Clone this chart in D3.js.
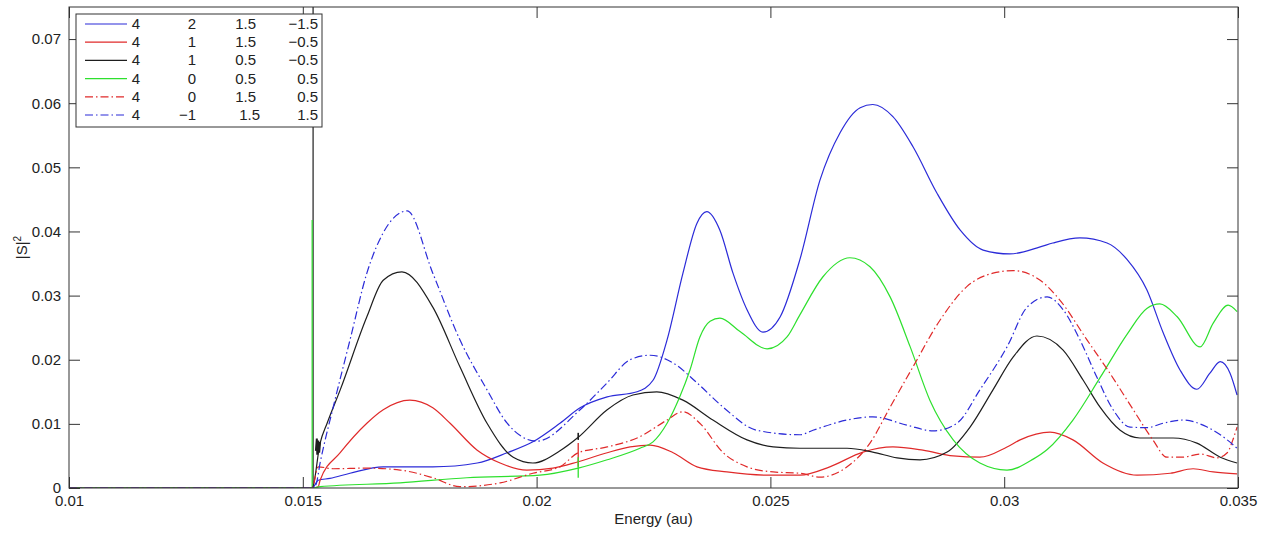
<!DOCTYPE html>
<html>
<head>
<meta charset="utf-8">
<script src="https://cdn.jsdelivr.net/npm/d3@7"></script>
<style>
  body { margin: 0; background: #fff; }
  svg { font-family: "Liberation Sans", Arial, sans-serif; }
</style>
</head>
<body>
<div id="chart"></div>
<script>
// energy (au), |S|^2
var blueSolid = [[0.01,0],[0.0152,0],[0.01533,0.0012],[0.01558,0.0015],[0.01601,0.0023],[0.01672,0.0033],[0.01778,0.0033],[0.01873,0.0039],[0.01937,0.0055],[0.01992,0.0072],[0.02050,0.0101],[0.02093,0.0125],[0.02151,0.0142],[0.02215,0.0150],[0.02249,0.0168],[0.02279,0.0231],[0.02313,0.0335],[0.02343,0.0413],[0.02364,0.0431],[0.02392,0.0402],[0.02420,0.0335],[0.02450,0.0278],[0.02484,0.0243],[0.02521,0.0267],[0.02563,0.0356],[0.02606,0.0480],[0.02649,0.0554],[0.02692,0.0593],[0.02719,0.0598],[0.02762,0.0579],[0.02805,0.0532],[0.02856,0.0460],[0.02906,0.0402],[0.02955,0.0371],[0.03012,0.0365],[0.03077,0.0376],[0.03104,0.0382],[0.03162,0.0390],[0.03220,0.0382],[0.03263,0.0356],[0.03305,0.0309],[0.03340,0.0242],[0.03376,0.0184],[0.03412,0.0154],[0.03440,0.0179],[0.03462,0.0197],[0.03483,0.0179],[0.03498,0.0145]];

var redSolid = [[0.01,0],[0.0152,0],[0.01533,0.0002],[0.01537,0.0012],[0.01580,0.0055],[0.01637,0.0101],[0.01672,0.0122],[0.01729,0.0137],[0.01778,0.0125],[0.01815,0.0101],[0.01873,0.0059],[0.01922,0.0039],[0.01979,0.0028],[0.02035,0.0031],[0.02089,0.0041],[0.02151,0.0055],[0.02200,0.0064],[0.02243,0.0067],[0.02292,0.0055],[0.02343,0.0033],[0.02407,0.0025],[0.02493,0.0020],[0.02563,0.0020],[0.02627,0.0033],[0.02698,0.0056],[0.02762,0.0064],[0.02826,0.0059],[0.02891,0.0050],[0.02948,0.0048],[0.03006,0.0064],[0.03034,0.0075],[0.03098,0.0087],[0.03147,0.0075],[0.03211,0.0039],[0.03284,0.0020],[0.03355,0.0023],[0.03404,0.0030],[0.03447,0.0025],[0.03498,0.0022]];

var blackSolid = [[0.01,0],[0.0152,0],[0.01537,0.0070],[0.01552,0.0101],[0.01580,0.0153],[0.01637,0.0267],[0.01672,0.0324],[0.01712,0.0337],[0.01778,0.0282],[0.01836,0.0189],[0.01894,0.0101],[0.01950,0.0048],[0.01992,0.0039],[0.02050,0.0058],[0.02089,0.0079],[0.02151,0.0122],[0.02206,0.0145],[0.02257,0.0150],[0.02313,0.0137],[0.02377,0.0106],[0.02450,0.0075],[0.02506,0.0064],[0.02563,0.0062],[0.02664,0.0062],[0.02719,0.0056],[0.02771,0.0047],[0.02820,0.0044],[0.02878,0.0056],[0.02927,0.0095],[0.02976,0.0153],[0.03019,0.0204],[0.03070,0.0237],[0.03126,0.0215],[0.03169,0.0168],[0.03205,0.0126],[0.03248,0.0090],[0.03290,0.0078],[0.03361,0.0078],[0.03412,0.0070],[0.03462,0.0048],[0.03498,0.0039]];

var greenSolid = [[0.01,0],[0.0152,0],[0.01537,0.0002],[0.01708,0.0008],[0.01851,0.0016],[0.02007,0.0020],[0.02089,0.0031],[0.02151,0.0044],[0.02221,0.0062],[0.02249,0.0072],[0.02279,0.0101],[0.02306,0.0142],[0.02328,0.0184],[0.02349,0.0235],[0.02371,0.0260],[0.02392,0.0265],[0.02435,0.0244],[0.02493,0.0217],[0.02536,0.0236],[0.02563,0.0270],[0.02612,0.0329],[0.02670,0.0359],[0.02713,0.0345],[0.02756,0.0298],[0.02799,0.0220],[0.02841,0.0137],[0.02891,0.0075],[0.02948,0.0039],[0.03006,0.0028],[0.03062,0.0045],[0.03092,0.0060],[0.03147,0.0106],[0.03205,0.0172],[0.03263,0.0240],[0.03305,0.0280],[0.03333,0.0287],[0.03370,0.0267],[0.03419,0.0220],[0.03447,0.0257],[0.03479,0.0285],[0.03498,0.0275]];

var redDashDot = [[0.01,0],[0.0152,0],[0.01533,0.0033],[0.01565,0.0030],[0.01637,0.0031],[0.01708,0.0028],[0.01778,0.0016],[0.01836,0.0002],[0.01922,0.0008],[0.01992,0.0023],[0.02050,0.0033],[0.02089,0.0055],[0.02151,0.0064],[0.02221,0.0080],[0.02279,0.0106],[0.02313,0.0119],[0.02349,0.0101],[0.02399,0.0055],[0.02450,0.0033],[0.02506,0.0025],[0.02563,0.0023],[0.02606,0.0017],[0.02664,0.0033],[0.02713,0.0070],[0.02756,0.0126],[0.02805,0.0189],[0.02863,0.0262],[0.02920,0.0314],[0.02976,0.0335],[0.03019,0.0339],[0.03077,0.0324],[0.03119,0.0293],[0.03177,0.0231],[0.03226,0.0179],[0.03276,0.0122],[0.03318,0.0075],[0.03348,0.0048],[0.03382,0.0048],[0.03419,0.0053],[0.03455,0.0047],[0.03477,0.0055],[0.03489,0.0075],[0.03498,0.0095]];

var blueDashDot = [[0.01,0],[0.0152,0],[0.01528,0.0005],[0.01537,0.0039],[0.01565,0.0126],[0.01601,0.0231],[0.01637,0.0335],[0.01672,0.0398],[0.01723,0.0432],[0.01778,0.0335],[0.01836,0.0231],[0.01894,0.0153],[0.01937,0.0101],[0.02000,0.0073],[0.02093,0.0122],[0.02151,0.0164],[0.02200,0.0200],[0.02243,0.0207],[0.02292,0.0195],[0.02343,0.0164],[0.02399,0.0126],[0.02471,0.0090],[0.02563,0.0083],[0.02591,0.0090],[0.02664,0.0106],[0.02719,0.0111],[0.02792,0.0098],[0.02848,0.0089],[0.02899,0.0101],[0.02948,0.0153],[0.03006,0.0220],[0.03049,0.0282],[0.03092,0.0298],[0.03126,0.0278],[0.03162,0.0231],[0.03198,0.0173],[0.03233,0.0122],[0.03269,0.0095],[0.03305,0.0094],[0.03340,0.0101],[0.03382,0.0106],[0.03434,0.0095],[0.03477,0.0075],[0.03498,0.0062]];

// spikes and glitches seen in the picture
var blackSpike = [[0.01522,0],[0.01522,0.08]];
var greenSpike = [[0.01520,0],[0.01520,0.0418]];
var blackNoise = [[0.01528,0.0058],[0.01530,0.0077],[0.01531,0.0052],[0.01533,0.0074],[0.01535,0.0055],[0.01537,0.0072]];
var redGlitch = [[0.02089,0.0033],[0.02089,0.0070]];
var greenGlitch = [[0.02089,0.0016],[0.02089,0.0048]];
var blackGlitch = [[0.02089,0.0075],[0.02089,0.0086]];

var legendRows = [["4","2","1.5","\u22121.5"],["4","1","1.5","\u22120.5"],["4","1","0.5","\u22120.5"],["4","0","0.5","0.5"],["4","0","1.5","0.5"],["4","\u22121","1.5","1.5"]];

var xTicks = [0.01,0.015,0.02,0.025,0.03,0.035];
var xTickLabels = ["0.01","0.015","0.02","0.025","0.03","0.035"];
var yTicks = [0,0.01,0.02,0.03,0.04,0.05,0.06,0.07];
var yTickLabels = ["0","0.01","0.02","0.03","0.04","0.05","0.06","0.07"];

var W = 1272, H = 534;
var mL = 69, mR = 1238, mT = 7, mB = 488;

var blue = "#2b2bd8", red = "#e02a2a", black = "#1e1e1e", green = "#2ee02e";
var dashDot = "8,3,1.5,3";

var series = [
  {data: blueSolid, color: blue, dash: null},
  {data: redSolid, color: red, dash: null},
  {data: blackSolid, color: black, dash: null},
  {data: greenSolid, color: green, dash: null},
  {data: redDashDot, color: red, dash: dashDot},
  {data: blueDashDot, color: blue, dash: dashDot}
];

var svg = d3.select("#chart").append("svg")
  .attr("width", W).attr("height", H);

var x = d3.scaleLinear().domain([0.01, 0.035]).range([mL, mR]);
var y = d3.scaleLinear().domain([0, 0.075]).range([mB, mT]);

svg.append("clipPath").attr("id", "clip")
  .append("rect")
  .attr("x", mL).attr("y", mT)
  .attr("width", mR - mL).attr("height", mB - mT);

var smooth = d3.line()
  .x(d => x(d[0])).y(d => y(d[1]))
  .curve(d3.curveMonotoneX);
var straight = d3.line()
  .x(d => x(d[0])).y(d => y(d[1]));

var plot = svg.append("g").attr("clip-path", "url(#clip)");

// spikes first, curves on top
[[blackSpike, black],[greenSpike, green]].forEach(function(s) {
  plot.append("path").attr("d", straight(s[0]))
    .attr("fill", "none").attr("stroke", s[1]).attr("stroke-width", 1.2);
});

series.forEach(function(s) {
  plot.append("path")
    .attr("d", smooth(s.data))
    .attr("fill", "none")
    .attr("stroke", s.color)
    .attr("stroke-width", 1.2)
    .attr("stroke-dasharray", s.dash);
});

[[blackNoise, black, 2],[redGlitch, red, 1.3],[greenGlitch, green, 1.3],[blackGlitch, black, 1.6]].forEach(function(s) {
  plot.append("path").attr("d", straight(s[0]))
    .attr("fill", "none").attr("stroke", s[1]).attr("stroke-width", s[2]);
});

// axes, ticks inward on all four sides
var tickLen = 11;
var axisColor = "#333";

function styleAxis(g) {
  g.select(".domain").remove();
  g.selectAll(".tick line").attr("stroke", axisColor);
  g.selectAll(".tick text").attr("fill", "#222").style("font-size", "15px")
    .style("font-family", "'Liberation Sans', Arial, sans-serif");
}

svg.append("g").attr("transform", "translate(0," + mB + ")")
  .call(d3.axisBottom(x).tickValues(xTicks).tickSizeInner(-tickLen).tickSizeOuter(0).tickPadding(7)
    .tickFormat((d, i) => xTickLabels[i]))
  .call(styleAxis);
svg.append("g").attr("transform", "translate(0," + mT + ")")
  .call(d3.axisTop(x).tickValues(xTicks).tickSizeInner(-tickLen).tickSizeOuter(0).tickFormat(""))
  .call(styleAxis);
svg.append("g").attr("transform", "translate(" + mL + ",0)")
  .call(d3.axisLeft(y).tickValues(yTicks).tickSizeInner(-tickLen).tickSizeOuter(0).tickPadding(8)
    .tickFormat((d, i) => yTickLabels[i]))
  .call(styleAxis);
svg.append("g").attr("transform", "translate(" + mR + ",0)")
  .call(d3.axisRight(y).tickValues(yTicks).tickSizeInner(-tickLen).tickSizeOuter(0).tickFormat(""))
  .call(styleAxis);

svg.append("rect")
  .attr("x", mL).attr("y", mT)
  .attr("width", mR - mL).attr("height", mB - mT)
  .attr("fill", "none").attr("stroke", axisColor).attr("stroke-width", 1);

// axis labels
svg.append("text")
  .attr("x", (mL + mR) / 2).attr("y", 524)
  .attr("text-anchor", "middle").attr("fill", "#222")
  .style("font-size", "15px")
  .text("Energy (au)");

var yl = svg.append("text")
  .attr("transform", "translate(27," + (mT + mB) / 2 + ") rotate(-90)")
  .attr("text-anchor", "middle").attr("fill", "#222")
  .style("font-size", "15px");
yl.append("tspan").text("|S|");
yl.append("tspan").attr("dy", -6).style("font-size", "10px").text("2");

// legend
var lg = svg.append("g");
lg.append("rect")
  .attr("x", 76).attr("y", 14).attr("width", 246).attr("height", 113)
  .attr("fill", "#fff").attr("stroke", axisColor);

var colRight = [140, 196, 256, 318];
series.forEach(function(s, i) {
  var ry = 24 + i * 18.2;
  lg.append("line")
    .attr("x1", 85).attr("x2", 127).attr("y1", ry).attr("y2", ry)
    .attr("stroke", s.color).attr("stroke-width", 1.2)
    .attr("stroke-dasharray", s.dash);
  legendRows[i].forEach(function(t, j) {
    lg.append("text")
      .attr("x", colRight[j] + (i === 5 && j === 2 ? 4 : 0)).attr("y", ry + 5)
      .attr("text-anchor", "end").attr("fill", "#222")
      .style("font-size", "15px")
      .text(t);
  });
});
</script>
</body>
</html>
